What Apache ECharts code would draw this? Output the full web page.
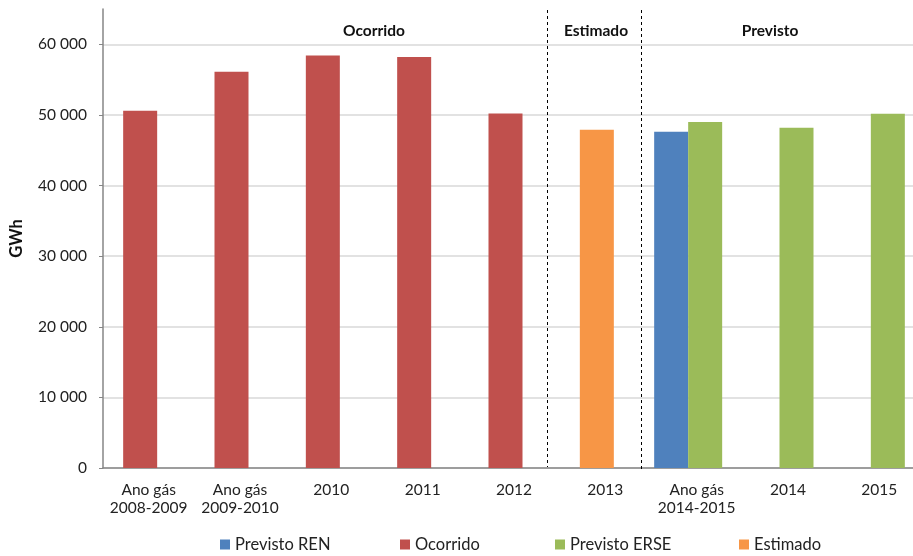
<!DOCTYPE html>
<html lang="pt">
<head>
  <meta charset="utf-8">
  <script src="https://cdn.jsdelivr.net/npm/echarts@6/dist/echarts.min.js"></script>
  <style>
    html, body { margin: 0; height: 100%; background: #fff; overflow: hidden; }
    /* mais largo que a janela: o eixo das categorias continua para lá da margem direita */
    #chart { width: 935px; height: 556px; }
  </style>
</head>
<body>
  <div id="chart"></div>
  <script>
    // categorias do eixo horizontal
    var categorias = ['Ano gás\n2008-2009', 'Ano gás\n2009-2010', '2010', '2011', '2012', '2013', 'Ano gás\n2014-2015', '2014', '2015'];
    // valores (GWh), '-' = sem valor
    var previstoREN  = ['-', '-', '-', '-', '-', '-', 47600, '-', '-'];
    var ocorrido     = [50600, 56100, 58400, 58200, 50200, '-', '-', '-', '-'];
    var previstoERSE = ['-', '-', '-', '-', '-', '-', 49000, 48200, 50150];
    var estimado     = ['-', '-', '-', '-', '-', 47900, '-', '-', '-'];
    var yTicks = [0, 10000, 20000, 30000, 40000, 50000, 60000];
    var nomesLegenda = ['Previsto REN', 'Ocorrido', 'Previsto ERSE', 'Estimado'];

    var cores = { ren: '#4f81bd', ocorrido: '#c0504d', erse: '#9bbb59', estimado: '#f79646' };
    var fonte = 'Lato, "Noto Sans", sans-serif';

    // como no original: o ponto estimado fica na mesma coluna do "Ocorrido", com outra cor
    var colunaOcorrido = ocorrido.map(function (v, i) {
      if (estimado[i] !== '-') return { value: estimado[i], itemStyle: { color: cores.estimado } };
      return v;
    });

    function fmt(v) {
      return String(v).replace(/\B(?=(\d{3})+(?!\d))/g, ' ');
    }

    // uma legenda por item, para acertar o espaçamento do original
    var legendaX = [220, 400, 555, 739];
    var legendas = nomesLegenda.map(function (nome, i) {
      return {
        left: legendaX[i], top: 536, padding: 0,
        icon: 'rect', itemWidth: 10, itemHeight: 10,
        textStyle: { fontSize: 16.5, color: '#222', fontFamily: fonte },
        data: [nome]
      };
    });

    var myChart = echarts.init(document.getElementById('chart'));
    var option = {
      backgroundColor: '#fff',
      animation: false,
      textStyle: { fontFamily: fonte },
      grid: { left: 100, width: 825, top: 9, height: 459, containLabel: false },
      legend: legendas,
      xAxis: {
        type: 'category',
        data: categorias,
        axisLine: { lineStyle: { color: '#868686', width: 1.5 } },
        axisTick: { show: false },
        axisLabel: { fontSize: 15.5, color: '#222', margin: 13, lineHeight: 18, interval: 0, fontFamily: fonte }
      },
      yAxis: {
        type: 'value',
        min: 0, max: 65000, interval: 10000,
        name: 'GWh', nameLocation: 'middle', nameRotate: 90, nameGap: 78,
        nameTextStyle: { fontSize: 16.5, fontWeight: 'bold', color: '#111', fontFamily: fonte },
        axisLine: { show: true, lineStyle: { color: '#868686', width: 1.5 } },
        axisTick: { show: true, length: 4, lineStyle: { color: '#868686' } },
        axisLabel: {
          fontSize: 15.5, color: '#222', margin: 16, showMaxLabel: false, fontFamily: fonte,
          formatter: function (v) { return yTicks.indexOf(v) >= 0 ? fmt(v) : ''; }
        },
        splitLine: {
          lineStyle: { color: ['#d9d9d9', '#d9d9d9', '#d9d9d9', '#d9d9d9', '#d9d9d9', '#d9d9d9', '#d9d9d9', 'rgba(0,0,0,0)'], width: 1.5 }
        }
      },
      series: [
        { name: 'Previsto REN', type: 'bar', data: previstoREN, barWidth: 34, barGap: '-50%', itemStyle: { color: cores.ren } },
        { name: 'Ocorrido', type: 'bar', data: colunaOcorrido, barWidth: 34, barGap: '-50%', itemStyle: { color: cores.ocorrido } },
        { name: 'Previsto ERSE', type: 'bar', data: previstoERSE, barWidth: 34, barGap: '-50%', itemStyle: { color: cores.erse } },
        { name: 'Estimado', type: 'bar', data: categorias.map(function () { return '-'; }), barWidth: 34, barGap: '-50%', itemStyle: { color: cores.estimado } }
      ],
      graphic: [
        { type: 'line', shape: { x1: 547.5, y1: 10, x2: 547.5, y2: 467 }, style: { stroke: '#000', lineWidth: 1, lineDash: [3, 3] }, z: 10 },
        { type: 'line', shape: { x1: 641.5, y1: 10, x2: 641.5, y2: 472 }, style: { stroke: '#000', lineWidth: 1, lineDash: [3, 3] }, z: 10 },
        { type: 'text', x: 374, y: 31, style: { text: 'Ocorrido', font: 'bold 15.5px ' + fonte, fill: '#111', align: 'center', verticalAlign: 'middle' } },
        { type: 'text', x: 596, y: 31, style: { text: 'Estimado', font: 'bold 15.5px ' + fonte, fill: '#111', align: 'center', verticalAlign: 'middle' } },
        { type: 'text', x: 770, y: 31, style: { text: 'Previsto', font: 'bold 15.5px ' + fonte, fill: '#111', align: 'center', verticalAlign: 'middle' } }
      ]
    };
    myChart.setOption(option);
    window.addEventListener('resize', myChart.resize);
  </script>
</body>
</html>
